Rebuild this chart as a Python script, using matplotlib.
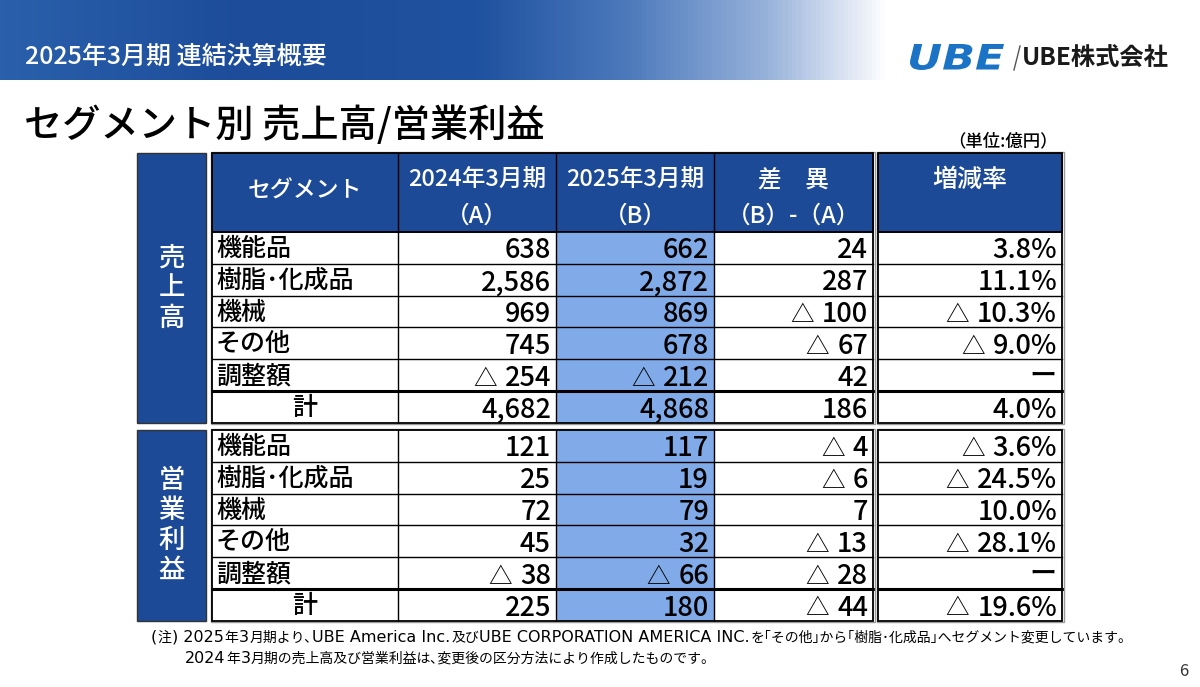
import numpy as np
import matplotlib
matplotlib.use('Agg')
import matplotlib.pyplot as plt
from matplotlib.patches import Rectangle, PathPatch
from matplotlib.textpath import TextPath
from matplotlib.font_manager import FontProperties
from matplotlib.colors import LinearSegmentedColormap
from matplotlib.transforms import Affine2D

plt.rcParams['font.family'] = ['Noto Sans CJK JP', 'DejaVu Sans']

# データ (単位:億円)
segments = ['機能品', '樹脂･化成品', '機械', 'その他', '調整額', '計']
sales_a = [638, 2586, 969, 745, -254, 4682]
sales_b = [662, 2872, 869, 678, -212, 4868]
sales_diff = [24, 287, -100, -67, 42, 186]
sales_rate = [3.8, 11.1, -10.3, -9.0, None, 4.0]
op_a = [121, 25, 72, 45, -38, 225]
op_b = [117, 19, 79, 32, -66, 180]
op_diff = [-4, -6, 7, -13, -28, -44]
op_rate = [-3.6, -24.5, 10.0, -28.1, None, -19.6]

note1 = '(注) 2025年3月期より､UBE America Inc.及びUBE CORPORATION AMERICA INC.を｢その他｣から｢樹脂･化成品｣へセグメント変更しています。'
note2 = '2024年3月期の売上高及び営業利益は､変更後の区分方法により作成したものです。'

NAVY = '#1c4a97'
BLUE_B = '#80aae8'
W = 'medium'
NUM_SIZE = 19.5

fig = plt.figure(figsize=(12, 6.87), dpi=100)
ax = fig.add_axes([0, 0, 1, 1])
ax.set_xlim(0, 1200)
ax.set_ylim(687, 0)
ax.axis('off')
renderer = fig.canvas.get_renderer()


def put_value(xr, yb, v, pct=False):
    # 負の値は△を数字の左に置く (yb = ベースライン)
    if v is None:
        ax.text(xr, yb - 9, 'ー', fontsize=NUM_SIZE, ha='right', va='center',
                fontweight=W)
        return
    s = f'{abs(v):.1f}%' if pct else f'{abs(v):,}'
    t = ax.text(xr, yb, s, fontsize=NUM_SIZE, ha='right', va='baseline', fontweight=W)
    if v < 0:
        w = t.get_window_extent(renderer).width
        ax.text(xr - w - 8, yb, '△', fontsize=17, ha='right', va='baseline')


def put_mixed(x, yb, s, size, latin_size):
    # 英数字は少し大きめのDejaVu、和文はNotoで順に並べる
    runs = []
    for ch in s:
        latin = ord(ch) < 0x2000
        if runs and runs[-1][1] == latin:
            runs[-1][0] += ch
        else:
            runs.append([ch, latin])
    for txt, latin in runs:
        if latin:
            t = ax.text(x, yb, txt, fontsize=latin_size, ha='left', va='baseline',
                        family='DejaVu Sans')
        else:
            t = ax.text(x, yb, txt, fontsize=size, ha='left', va='baseline',
                        family='Noto Sans CJK JP')
        x += t.get_window_extent(renderer).width + 0.5


# ヘッダー帯
cmap = LinearSegmentedColormap.from_list('band', [
    (0.0, '#2a60ab'), (0.2, '#1c4c9a'), (0.4, '#1f52a0'),
    (0.52, '#4b78bb'), (0.64, '#97b2db'), (0.74, '#ffffff'), (1.0, '#ffffff')])
grad = np.tile(np.linspace(0, 1, 600), (40, 1))
ax.imshow(grad, cmap=cmap, extent=[0, 1200, 80, 0], aspect='auto', zorder=0)
ax.text(25, 57, '2025年3月期 連結決算概要', color='white', fontsize=18,
        va='center', ha='left', fontweight=W)

# ロゴ
tp = TextPath((0, 0), 'UBE', size=30,
              prop=FontProperties(family='DejaVu Sans', weight='bold', style='oblique'))
bb = tp.get_extents()
sx = 94 / bb.width
sy = 26 / bb.height
tr = Affine2D().translate(-bb.x0, -bb.y0).scale(sx, -sy).translate(910, 70)
ax.add_patch(PathPatch(tr.transform_path(tp), color='#1a73c4', lw=0, zorder=3))
ax.plot([1020, 1014], [46, 70], color='#555555', lw=1)
ax.text(1022, 58, 'UBE株式会社', fontsize=17.5, fontweight='bold', va='center',
        ha='left', color='#1a1a1a')

# タイトル
ax.text(24, 126, 'セグメント別 売上高/営業利益', fontsize=27.5, va='center', ha='left',
        color='black', fontweight=W)
ax.text(1058, 141, '（単位:億円）', fontsize=12.5, va='center', ha='right', fontweight=W)

# テーブル
col_x = [212, 398, 556, 714, 873]
rate_x = [878, 1062]
side_x = [137, 206]
row_h = 31.8


def draw_block(top, rows, a, b, diff, rate, side_label, header=False):
    y0 = top
    if header:
        hh = 79
        ax.add_patch(Rectangle((col_x[0], top), col_x[-1] - col_x[0], hh,
                               facecolor=NAVY, edgecolor='black', lw=1.2, zorder=1))
        ax.add_patch(Rectangle((rate_x[0], top), rate_x[1] - rate_x[0], hh,
                               facecolor=NAVY, edgecolor='black', lw=1.2, zorder=1))
        for cx in col_x[1:-1]:
            ax.plot([cx, cx], [top, top + hh], color='black', lw=1, zorder=2)
        ax.text((col_x[0] + col_x[1]) / 2, top + 38, 'セグメント', color='white',
                fontsize=16.5, ha='center', va='center', fontweight=W)
        heads = [('2024年3月期', '（A）'), ('2025年3月期', '（B）'), ('差　異', '（B）-（A）')]
        for i, (h1, h2) in enumerate(heads):
            cx = (col_x[i + 1] + col_x[i + 2]) / 2
            ax.text(cx, top + 27, h1, color='white', fontsize=17, ha='center',
                    va='center', fontweight=W)
            ax.text(cx, top + 63, h2, color='white', fontsize=17, ha='center',
                    va='center', fontweight=W)
        ax.text((rate_x[0] + rate_x[1]) / 2, top + 27, '増減率', color='white',
                fontsize=18, ha='center', va='center', fontweight=W)
        y0 = top + hh
    n = len(rows)
    bottom = y0 + n * row_h
    # サイドラベル
    ax.add_patch(Rectangle((side_x[0], top), side_x[1] - side_x[0], bottom - top,
                           facecolor=NAVY, edgecolor='#333333', lw=1, zorder=1))
    ax.text((side_x[0] + side_x[1]) / 2, (top + bottom) / 2, '\n'.join(side_label),
            color='white', fontsize=19, ha='center', va='center', linespacing=1.15,
            fontweight=W)
    # B列の塗り
    ax.add_patch(Rectangle((col_x[2], y0), col_x[3] - col_x[2], bottom - y0,
                           facecolor=BLUE_B, edgecolor='none', zorder=1))
    for i in range(n):
        rt = y0 + i * row_h
        yc = rt + row_h / 2 + 1
        yb = rt + 26.5
        if rows[i] == '計':
            ax.text((col_x[0] + col_x[1]) / 2, yc, rows[i], fontsize=18,
                    ha='center', va='center', fontweight=W)
        else:
            ax.text(col_x[0] + 4, yc, rows[i], fontsize=18, ha='left', va='center',
                    fontweight=W)
        put_value(col_x[2] - 5, yb, a[i])
        put_value(col_x[3] - 5, yb, b[i])
        put_value(col_x[4] - 5, yb, diff[i])
        put_value(rate_x[1] - 5, yb, rate[i], pct=True)
    # 罫線
    for i in range(1, n):
        y = y0 + i * row_h
        lw = 2.2 if i == n - 1 else 1
        ax.plot([col_x[0], col_x[-1]], [y, y], color='black', lw=lw, zorder=2)
        ax.plot(rate_x, [y, y], color='black', lw=lw, zorder=2)
    for cx in col_x[1:-1]:
        ax.plot([cx, cx], [y0, bottom], color='black', lw=1, zorder=2)
    for x0, x1 in [(col_x[0], col_x[-1]), tuple(rate_x)]:
        ax.add_patch(Rectangle((x0 - 1.5, top - 1.5), x1 - x0 + 3, bottom - top + 3,
                               facecolor='none', edgecolor='#9a9a9a', lw=1, zorder=3))
        ax.add_patch(Rectangle((x0, top), x1 - x0, bottom - top,
                               facecolor='none', edgecolor='black', lw=1.3, zorder=3))
    if header:
        ax.plot([col_x[0], col_x[-1]], [y0, y0], color='black', lw=1.2, zorder=2)
        ax.plot(rate_x, [y0, y0], color='black', lw=1.2, zorder=2)


draw_block(153, segments, sales_a, sales_b, sales_diff, sales_rate, '売上高', header=True)
draw_block(430, segments, op_a, op_b, op_diff, op_rate, '営業利益')

# 注記
put_mixed(151, 642, note1, 10, 11.5)
put_mixed(185, 663, note2, 10, 11.5)
ax.text(1188, 672, '6', fontsize=12, ha='right', va='center', color='#333333')

fig.savefig('out.png', dpi=100)
